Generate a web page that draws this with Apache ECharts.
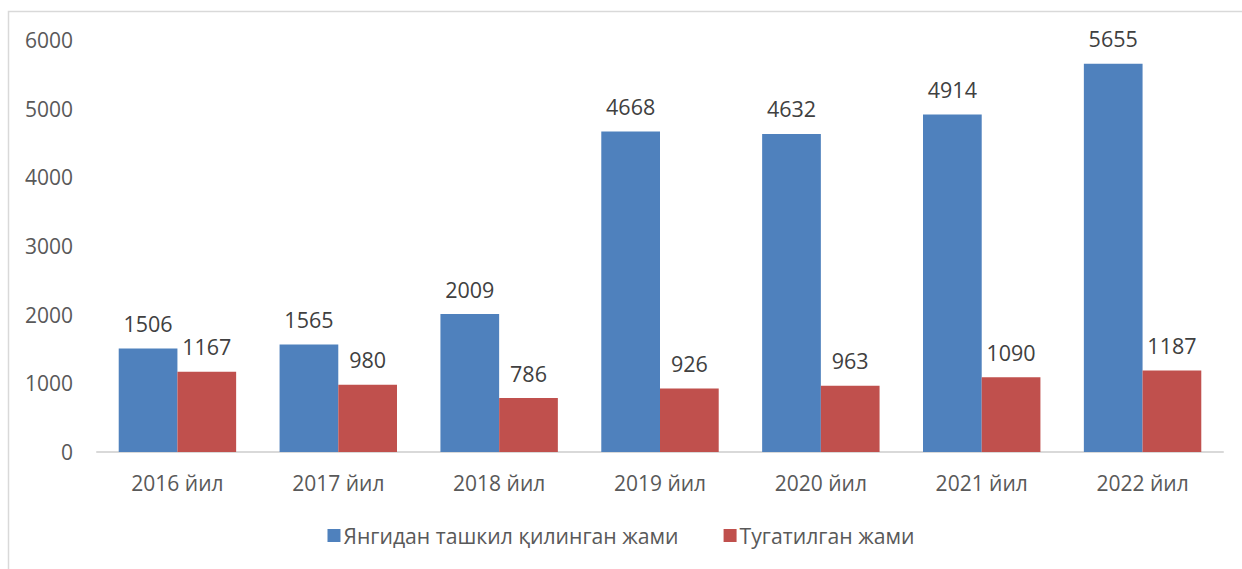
<!DOCTYPE html>
<html>
<head>
<meta charset="utf-8">
<script src="https://cdn.jsdelivr.net/npm/echarts@6/dist/echarts.min.js"></script>
<style>
  html, body { margin: 0; padding: 0; background: #fff; }
  #chart { width: 1242px; height: 569px; }
</style>
</head>
<body>
<div id="chart"></div>
<script>
const chart = echarts.init(document.getElementById('chart'), null, { renderer: 'svg' });

// data
const years = ['2016 йил', '2017 йил', '2018 йил', '2019 йил', '2020 йил', '2021 йил', '2022 йил'];
const created = [1506, 1565, 2009, 4668, 4632, 4914, 5655];
const closed = [1167, 980, 786, 926, 963, 1090, 1187];
const seriesNames = ['Янгидан ташкил қилинган жами', 'Тугатилган жами'];

const textColor = '#595959';
const font = 'Open Sans';

chart.setOption({
    textStyle: { fontFamily: font },
    graphic: [{
        type: 'rect',
        shape: { x: 8.5, y: 11.5, width: 1300, height: 700 },
        style: { fill: 'none', stroke: '#d9d9d9', lineWidth: 1.5 },
        silent: true
    }],
    legend: {
        top: 520,
        left: 'center',
        itemWidth: 13,
        itemHeight: 13,
        itemGap: 45,
        icon: 'rect',
        textStyle: { color: textColor, fontSize: 21.2, fontFamily: font, padding: [0, 0, 0, -2] }
    },
    grid: {
        left: 97,
        right: 19,
        top: 40,
        bottom: 117
    },
    xAxis: {
        type: 'category',
        data: years,
        axisLine: { lineStyle: { color: '#d9d9d9', width: 2 } },
        axisTick: { show: false },
        axisLabel: { color: textColor, fontSize: 21, margin: 20 }
    },
    yAxis: {
        type: 'value',
        min: 0,
        max: 6000,
        interval: 1000,
        splitLine: { show: false },
        axisLine: { show: false },
        axisTick: { show: false },
        axisLabel: { color: textColor, fontSize: 21, margin: 24, formatter: v => String(v) }
    },
    series: [{
        name: seriesNames[0],
        type: 'bar',
        data: created,
        barGap: '0%',
        barCategoryGap: '27%',
        itemStyle: { color: '#4F81BD' },
        label: { show: true, position: 'top', distance: 14, color: '#404040', fontSize: 21.5 }
    }, {
        name: seriesNames[1],
        type: 'bar',
        data: closed,
        barGap: '0%',
        barCategoryGap: '27%',
        itemStyle: { color: '#C0504D' },
        label: { show: true, position: 'top', distance: 14, color: '#404040', fontSize: 21.5 }
    }]
});
</script>
</body>
</html>
